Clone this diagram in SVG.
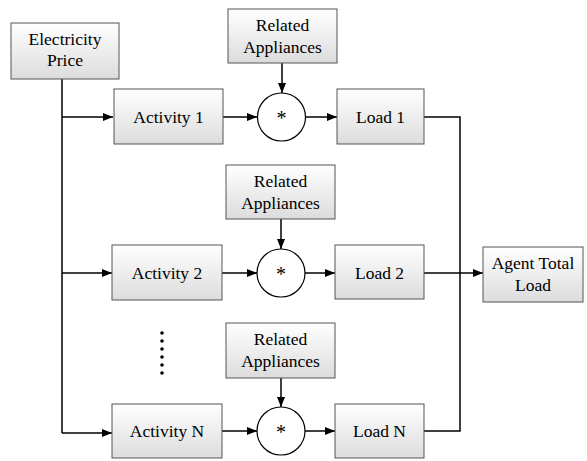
<svg xmlns="http://www.w3.org/2000/svg" width="587" height="461" viewBox="0 0 587 461">
<defs>
<linearGradient id="g" x1="0" y1="0" x2="0" y2="1"><stop offset="0" stop-color="#ffffff"/><stop offset="1" stop-color="#dcdcdc"/></linearGradient>
<marker id="a" markerWidth="10" markerHeight="8" refX="10" refY="4" orient="auto" markerUnits="userSpaceOnUse"><path d="M0,0 L10,4 L0,8 Z" fill="#000"/></marker>
</defs>
<style>
.b{fill:url(#g);stroke:#555;stroke-width:1}
.c{fill:#fff;stroke:#000;stroke-width:1.2}
.t{font-family:"Liberation Serif","Times New Roman",serif;font-size:17.5px;fill:#000;text-anchor:middle}
.s{font-family:"Liberation Serif","Times New Roman",serif;font-size:20px;fill:#000;text-anchor:middle}
.l{fill:none;stroke:#000;stroke-width:1.5}
.la{fill:none;stroke:#000;stroke-width:1.5;marker-end:url(#a)}
</style>
<g id="connectors">
<path class="l" d="M62,79 V433"/>
<path class="la" d="M62,117 H113"/>
<path class="la" d="M62,273 H112"/>
<path class="la" d="M62,433 H112"/>
<path class="la" d="M223,117 H257"/>
<path class="la" d="M222,273 H257"/>
<path class="la" d="M222,431 H257"/>
<path class="la" d="M282,63 V93"/>
<path class="la" d="M281,219 V249"/>
<path class="la" d="M281,378 V407"/>
<path class="la" d="M305,117 H337"/>
<path class="la" d="M305,273 H335"/>
<path class="la" d="M305,431 H335"/>
<path class="l" d="M424,117 H460 V431 H424"/>
<path class="la" d="M424,273 H483"/>
</g>
<g id="electricity-price"><rect class="b" x="11" y="23" width="108" height="56"/><text class="t" x="65" y="45">Electricity</text><text class="t" x="65" y="66">Price</text></g>
<g id="activity-1"><rect class="b" x="114" y="89" width="109" height="55"/><text class="t" x="168.5" y="123">Activity 1</text></g>
<g id="activity-2"><rect class="b" x="112" y="245" width="110" height="55"/><text class="t" x="167" y="279">Activity 2</text></g>
<g id="activity-n"><rect class="b" x="112" y="404" width="110" height="54"/><text class="t" x="167" y="437">Activity N</text></g>
<g id="related-1"><rect class="b" x="228" y="9" width="109" height="54"/><text class="t" x="282.5" y="31">Related</text><text class="t" x="282.5" y="53">Appliances</text></g>
<g id="related-2"><rect class="b" x="226" y="165" width="109" height="54"/><text class="t" x="280.5" y="187">Related</text><text class="t" x="280.5" y="209">Appliances</text></g>
<g id="related-n"><rect class="b" x="226" y="323" width="109" height="55"/><text class="t" x="280.5" y="345">Related</text><text class="t" x="280.5" y="367">Appliances</text></g>
<g id="mult-1"><circle class="c" cx="281.5" cy="117" r="24"/><text class="s" x="281.5" y="125">*</text></g>
<g id="mult-2"><circle class="c" cx="281" cy="273" r="24"/><text class="s" x="281" y="281">*</text></g>
<g id="mult-n"><circle class="c" cx="281" cy="431" r="24"/><text class="s" x="281" y="439">*</text></g>
<g id="load-1"><rect class="b" x="337" y="89" width="87" height="55"/><text class="t" x="380.5" y="123">Load 1</text></g>
<g id="load-2"><rect class="b" x="335" y="245" width="89" height="54"/><text class="t" x="379.5" y="279">Load 2</text></g>
<g id="load-n"><rect class="b" x="335" y="404" width="89" height="54"/><text class="t" x="379.5" y="437">Load N</text></g>
<g id="agent-total-load"><rect class="b" x="483" y="247" width="100" height="55"/><text class="t" x="533" y="269">Agent Total</text><text class="t" x="533" y="291">Load</text></g>
<g id="ellipsis" fill="#000"><circle cx="162" cy="333" r="1.8"/><circle cx="162" cy="341" r="1.8"/><circle cx="162" cy="349" r="1.8"/><circle cx="162" cy="357" r="1.8"/><circle cx="162" cy="365" r="1.8"/><circle cx="162" cy="373" r="1.8"/></g>
</svg>
